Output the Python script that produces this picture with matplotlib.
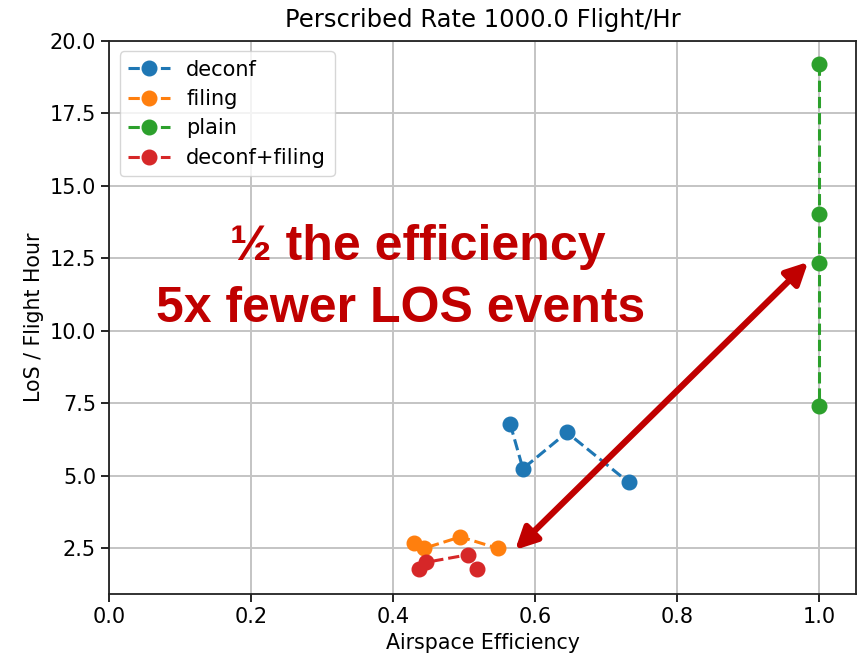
import matplotlib
matplotlib.use("Agg")
import matplotlib.pyplot as plt

title = "Perscribed Rate 1000.0 Flight/Hr"
xlabel = "Airspace Efficiency"
ylabel = "LoS / Flight Hour"

deconf_x = [0.565, 0.583, 0.645, 0.732]
deconf_y = [6.8, 5.25, 6.5, 4.78]
filing_x = [0.429, 0.443, 0.495, 0.548]
filing_y = [2.7, 2.5, 2.9, 2.5]
plain_x = [1.0, 1.0, 1.0, 1.0]
plain_y = [19.2, 14.03, 12.36, 7.4]
df_x = [0.436, 0.446, 0.505, 0.518]
df_y = [1.8, 2.02, 2.28, 1.8]

annot_line1 = "½ the efficiency"
annot_line2 = "5x fewer LOS events"
arrow_start = (0.572, 2.45)
arrow_end = (0.985, 12.38)

plt.rcParams['font.family'] = ['DejaVu Sans']
fig = plt.figure(figsize=(8.6, 6.6), dpi=100)
ax = fig.add_axes([0.127, 0.10, 0.868, 0.838])

style = dict(linestyle='--', marker='o', markersize=10.5, linewidth=2.2)
ax.plot(deconf_x, deconf_y, color='#1f77b4', label='deconf', **style)
ax.plot(filing_x, filing_y, color='#ff7f0e', label='filing', **style)
ax.plot(plain_x, plain_y, color='#2ca02c', label='plain', **style)
ax.plot(df_x, df_y, color='#d62728', label='deconf+filing', **style)

ax.set_xlim(0, 1.052)
ax.set_ylim(0.93, 20.0)
ax.set_xticks([0.0, 0.2, 0.4, 0.6, 0.8, 1.0])
ax.set_yticks([2.5, 5.0, 7.5, 10.0, 12.5, 15.0, 17.5, 20.0])
ax.grid(True, color='#c4c4c4', linewidth=1.4)
ax.set_axisbelow(True)
ax.tick_params(labelsize=15, length=6, width=1.2)
for s in ax.spines.values():
    s.set_linewidth(1.3)
    s.set_color('#222222')
ax.set_title(title, fontsize=17.5, pad=10)
ax.set_xlabel(xlabel, fontsize=14.8)
ax.set_ylabel(ylabel, fontsize=14.8)
ax.legend(loc='upper left', fontsize=15, handlelength=2.0, framealpha=0.8,
          labelspacing=0.45)

tkw = dict(ha='center', va='baseline', fontsize=36, fontweight='bold',
           color='#c00000', family=['Liberation Sans', 'DejaVu Sans'])
ax.text(0.435, 20 - (260 - 41) / 29.0, annot_line1, **tkw)
ax.text(0.41, 20 - (322 - 41) / 29.0, annot_line2, **tkw)
ax.annotate('', xy=arrow_end, xytext=arrow_start,
            arrowprops=dict(arrowstyle='<|-|>,head_length=1.3,head_width=0.65',
                            color='#c00000', lw=4.5, shrinkA=0, shrinkB=0))

fig.savefig('out.png', dpi=100)
